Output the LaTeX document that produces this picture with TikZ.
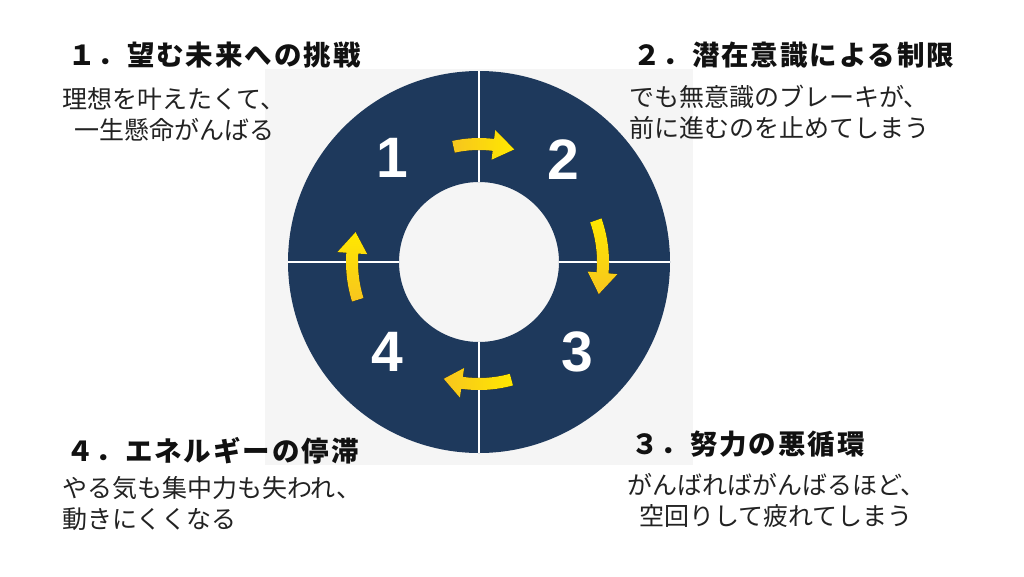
\documentclass[tikz,border=0pt]{standalone}
\usepackage{fontspec}
\setmainfont{Liberation Sans}
\newfontfamily\jptitle{Noto Sans CJK JP}[LetterSpace=7]
\newfontfamily\jpbody{Noto Sans CJK JP}
\newfontfamily\numfont{Liberation Sans}
\definecolor{navy}{HTML}{1E395C}
\definecolor{bggray}{HTML}{F5F5F5}
\definecolor{ylw}{HTML}{FFE800}
\definecolor{gold}{HTML}{F7C51E}
\definecolor{titleink}{HTML}{111111}
\definecolor{bodyink}{HTML}{222222}
\newcommand\cycarr[5]{% tail angle, head-base angle, tip angle, radius, shading
  \pgfmathsetmacro\ro{#4+6}\pgfmathsetmacro\ri{#4-6}%
  \pgfmathsetmacro\hro{#4+15}\pgfmathsetmacro\hri{#4-15}%
  \fill[#5] (#1:\ro) arc[start angle=#1, end angle=#2, radius=\ro] -- (#2:\hro) -- (#3:#4) -- (#2:\hri) -- (#2:\ri) arc[start angle=#2, end angle=#1, radius=\ri] -- cycle;}
\begin{document}
\begin{tikzpicture}[x=1pt,y=-1pt,
  titletext/.style={anchor=west,inner sep=0pt,text=titleink,font=\jptitle\bfseries\fontsize{27.5}{31}\selectfont},
  bodytext/.style={anchor=west,inner sep=0pt,text=bodyink,font=\jpbody\fontsize{25}{29}\selectfont},
  numtext/.style={text=white,inner sep=0pt,font=\numfont\bfseries\fontsize{57}{60}\selectfont},
  divider/.style={draw=white,line width=2.2pt},
  hshade/.style={left color=gold,right color=ylw},
  vshade/.style={top color=ylw,bottom color=gold}]
\useasboundingbox (0,0) rectangle (1024,576);
\fill[white] (0,0) rectangle (1024,576);
\fill[bggray] (265,69) rectangle (693,465);
\coordinate (c) at (479,262);
\fill[navy,even odd rule] (c) circle[radius=191] (c) circle[radius=80];
\begin{scope}[shift={(c)}]
  \draw[divider] (0,-191) -- (0,-80);
  \draw[divider] (0,80) -- (0,191);
  \draw[divider] (-191,0) -- (-80,0);
  \draw[divider] (80,0) -- (191,0);
  \cycarr{-102.5}{-83}{-72.6}{118}{hshade}
  \cycarr{-19.6}{5}{15}{124}{vshade}
  \cycarr{74.6}{98}{106.8}{122}{hshade}
  \cycarr{162.7}{184}{193.6}{127}{vshade}
\end{scope}
\node[numtext] (n1) at (392,158) {1};
\node[numtext] (n2) at (563,160) {2};
\node[numtext] (n3) at (577,352) {3};
\node[numtext] (n4) at (387,352) {4};
% block 1
\node[titletext] (t1) at (68,55) {１．望む未来への挑戦};
\node[bodytext] (b1a) at (62,99) {理想を叶えたくて、};
\node[bodytext] (b1b) at (74,130) {一生懸命がんばる};
% block 2
\node[titletext] (t2) at (633,55) {２．潜在意識による制限};
\node[bodytext] (b2a) at (629,97) {でも無意識のブレーキが、};
\node[bodytext] (b2b) at (629,128) {前に進むのを止めてしまう};
% block 3
\node[titletext] (t3) at (631,444) {３．努力の悪循環};
\node[bodytext] (b3a) at (627,485) {がんばればがんばるほど、};
\node[bodytext] (b3b) at (639,516) {空回りして疲れてしまう};
% block 4
\node[titletext] (t4) at (66,451) {４．エネルギーの停滞};
\node[bodytext] (b4a) at (62,488) {やる気も集中力も失われ、};
\node[bodytext] (b4b) at (62,519) {動きにくくなる};
\end{tikzpicture}
\end{document}
